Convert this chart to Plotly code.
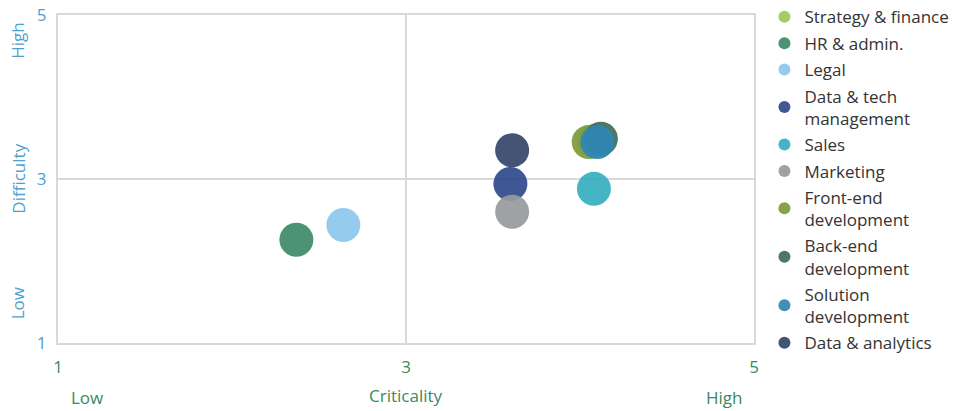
import plotly.graph_objects as go

names = ["Strategy & finance", "HR & admin.", "Legal", "Data & tech<br>management", "Sales",
         "Marketing", "Front-end<br>development", "Back-end<br>development",
         "Solution<br>development", "Data & analytics"]
crit = [4.08, 2.37, 2.64, 3.60, 4.08, 3.61, 4.05, 4.12, 4.10, 3.61]
diff = [3.46, 2.26, 2.44, 2.94, 2.88, 2.60, 3.45, 3.49, 3.45, 3.35]
colors = ["#9cc95a", "#3c8a66", "#8cc8ec", "#2f4a8c", "#35afbf",
          "#97999c", "#7b9a3c", "#3f6b59", "#2f86b4", "#34456a"]
ticks = [1, 3, 5]

FONT = "Open Sans"
fig = go.Figure()
for i, (n, x, y, c) in enumerate(zip(names, crit, diff, colors)):
    fig.add_trace(go.Scatter(x=[x], y=[y], mode="markers", name=n, legendgroup=f"g{i}",
                             marker=dict(size=34, color=c, opacity=0.92, line=dict(width=0))))

axis_common = dict(range=[1, 5], tickvals=ticks, showgrid=True, gridcolor="#d9d9d9", gridwidth=2,
                   showline=True, linecolor="#d9d9d9", linewidth=2, mirror=True, zeroline=False)
fig.update_xaxes(**axis_common, tickfont=dict(family=FONT, size=17, color="#3a8a5e"), ticklabelstandoff=8)
fig.update_yaxes(**axis_common, tickfont=dict(family=FONT, size=17, color="#4fa0d0"), ticklabelstandoff=6)

for t, xx, yy in [("Low", 0.042, -0.165), ("Criticality", 0.5, -0.16), ("High", 0.957, -0.165)]:
    fig.add_annotation(text=t, x=xx, y=yy, xref="paper", yref="paper",
                       showarrow=False, font=dict(family=FONT, size=17, color="#3a8a5e"),
                       xanchor="center", yanchor="middle")
for t, yy in [("High", 0.92), ("Difficulty", 0.5), ("Low", 0.12)]:
    fig.add_annotation(text=t, x=-0.058, y=yy, xref="paper", yref="paper", showarrow=False,
                       textangle=-90, font=dict(family=FONT, size=17, color="#4fa0d0"),
                       xanchor="center", yanchor="middle")

fig.update_layout(
    width=957, height=411, margin=dict(l=58, r=203, t=15, b=68, autoexpand=False),
    plot_bgcolor="white", paper_bgcolor="white", showlegend=True,
    legend=dict(x=1.015, y=1.048, xanchor="left", yanchor="top", itemsizing="constant",
                font=dict(family=FONT, size=17, color="#333333"), tracegroupgap=1.3,
                itemwidth=30, maxheight=1.0, bgcolor="rgba(0,0,0,0)"),
)
fig.write_html("out.html")
